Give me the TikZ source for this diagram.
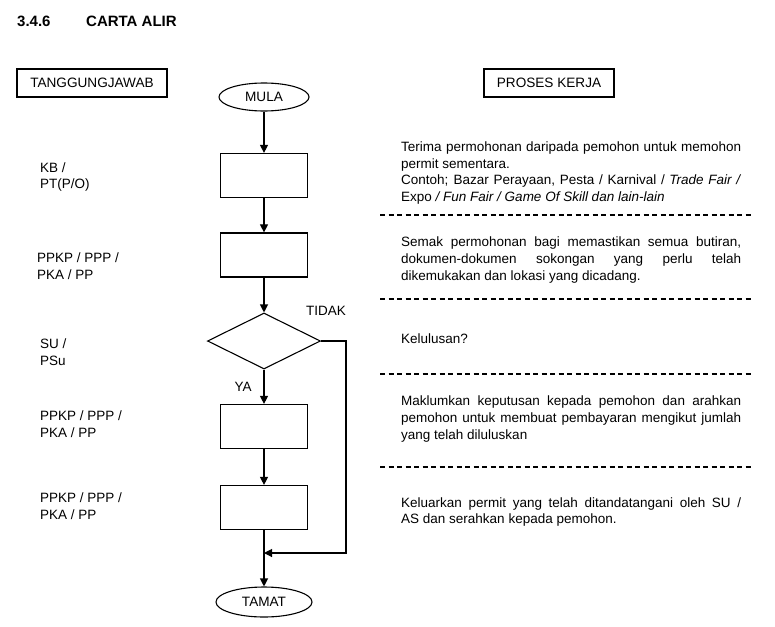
\documentclass[tikz,border=0pt]{standalone}
\usepackage{fontspec}
\setmainfont{Liberation Sans}
\usepackage{tikz}
\usetikzlibrary{arrows.meta,positioning,shapes.geometric}
\setlength{\parindent}{0pt}
\tolerance=10000
\hbadness=10000

\begin{document}
\begin{tikzpicture}[x=1pt,y=-1pt,
  txt/.style={inner sep=0pt,font=\fontsize{13.5}{16.9}\selectfont},
  headbox/.style={draw,line width=1.1pt,minimum height=28pt,inner sep=0pt,font=\fontsize{13.6}{16}\selectfont},
  termbox/.style={draw,ellipse,line width=1.1pt,minimum width=90pt,minimum height=28pt,inner sep=0pt,font=\fontsize{13.6}{16}\selectfont},
  procbox/.style={draw,line width=1.2pt,minimum width=87pt,minimum height=44pt,inner sep=0pt},
  decbox/.style={draw,diamond,line width=1.1pt,minimum width=113pt,minimum height=56pt,inner sep=0pt},
  role/.style={txt,anchor=west,align=left},
  desc/.style={txt,anchor=west,text width=340pt,align=justify},
  sep/.style={line width=1.2pt,dash pattern=on 5pt off 3.5pt},
  arrow/.style={-{Triangle[length=8pt,width=8pt]},line width=1.1pt}
]
\useasboundingbox (0,0) rectangle (775,626);

% title and column heads
\node[anchor=base west,inner sep=0pt,font=\bfseries\fontsize{15}{17}\selectfont] (num) at (17,27) {3.4.6};
\node[anchor=base west,inner sep=0pt,font=\bfseries\fontsize{15}{17}\selectfont] (ttl) at (86,27) {CARTA ALIR};
\node[headbox,minimum width=150pt] (hl) at (92,83) {TANGGUNGJAWAB};
\node[headbox,minimum width=130pt] (hr) at (549,83) {PROSES KERJA};

% flow
\node[termbox] (mula) at (264,97) {MULA};
\node[procbox] (a) at (264,175.5) {};
\node[procbox] (b) at (264,255) {};
\node[decbox] (c) at (264,341) {};
\node[procbox] (d) at (264,426.5) {};
\node[procbox] (e) at (264,507.5) {};
\node[termbox,minimum width=96pt,minimum height=30pt] (tamat) at (264,602) {TAMAT};
\coordinate (j) at (264,553);
\coordinate (k) at (346,553);

\draw[arrow] (mula) -- (a);
\draw[arrow] (a) -- (b);
\draw[arrow] (b) -- (c);
\draw[arrow] (c) -- (d);
\draw[arrow] (d) -- (e);
\draw[arrow] (e) -- (tamat);
\draw[arrow] (c.east) -| (k) -- (j);
\node[txt] (no) at (326,311) {TIDAK};
\node[txt] (yes) at (243,387) {YA};

% who
\node[role] (r1) at (40,177) {KB /\\PT(P/O)};
\node[role] (r2) at (37,266) {PPKP / PPP /\\PKA / PP};
\node[role] (r3) at (40,352) {SU /\\PSu};
\node[role] (r4) at (40,424) {PPKP / PPP /\\PKA / PP};
\node[role] (r5) at (40,506) {PPKP / PPP /\\PKA / PP};

% what
\node[desc] (p1) at (401,173) {Terima permohonan daripada pemohon untuk memohon\linebreak permit sementara.\par Contoh; Bazar Perayaan, Pesta / Karnival / \textit{Trade Fair /}\linebreak Expo \textit{/ Fun Fair / Game Of Skill dan lain-lain}};
\node[desc] (p2) at (401,260) {Semak permohonan bagi memastikan semua butiran,\linebreak dokumen-dokumen sokongan yang perlu telah\linebreak dikemukakan dan lokasi yang dicadang.};
\node[desc] (p3) at (401,339) {Kelulusan?};
\node[desc] (p4) at (401,419) {Maklumkan keputusan kepada pemohon dan arahkan\linebreak pemohon untuk membuat pembayaran mengikut jumlah\linebreak yang telah diluluskan};
\node[desc] (p5) at (401,512) {Keluarkan permit yang telah ditandatangani oleh SU /\linebreak AS dan serahkan kepada pemohon.};

\draw[sep] (380,215) -- (752,215);
\draw[sep] (380,299) -- (752,299);
\draw[sep] (380,374) -- (752,374);
\draw[sep] (380,467) -- (752,467);
\end{tikzpicture}
\end{document}
